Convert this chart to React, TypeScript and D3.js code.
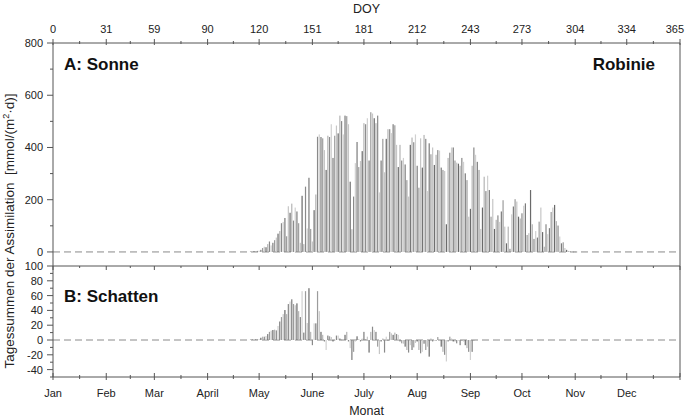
import React from "react";
import * as d3 from "d3";

// ---- data ----
const sunStartDoy = 115;
const sunValues = [
  2, 2, 3, 3, 4, 5, 8, 15, 20, 18,
  30, 40, 25, 35, 45, 55, 70, 80, 110, 115,
  130, 60, 175, 150, 185, 120, 170, 155, 110, 35,
  215, 30, 250, 90, 284, 88, 40, 160, 220, 441,
  450, 440, 435, 390, 314, 445, 440, 489, 360, 445,
  484, 454, 522, 501, 450, 522, 520, 489, 269, 87,
  212, 340, 421, 325, 348, 386, 493, 489, 512, 350,
  535, 530, 512, 493, 522, 228, 350, 433, 305, 433,
  470, 470, 455, 489, 485, 410, 325, 410, 350, 360,
  335, 275, 212, 410, 438, 420, 450, 330, 246, 435,
  323, 448, 433, 233, 416, 374, 400, 333, 372, 390,
  388, 323, 314, 310, 106, 360, 380, 400, 400, 350,
  342, 338, 330, 360, 345, 301, 275, 135, 165, 330,
  400, 372, 345, 314, 88, 170, 288, 233, 292, 237,
  135, 203, 88, 123, 140, 115, 155, 198, 97, 33,
  97, 12, 144, 174, 202, 193, 135, 128, 148, 177,
  186, 65, 72, 237, 106, 50, 80, 55, 116, 170,
  76, 20, 106, 68, 91, 153, 170, 180, 118, 101,
  59, 33, 37, 15, 8, 4, 2, 2, 1, 1, 1,
];
const shadeStartDoy = 115;
const shadeValues = [
  1, 1, 1, 1, 1, 1, 3, 4.5, 4.5, 5.4,
  8, 11, 12.6, 13.5, 14, 13, 19, 25, 31, 35,
  40.5, 35, 48.6, 52, 55, 48.6, 47, 49.5, 39, 31,
  66, 10, 66, 23, 70, 11, -7, 22.5, 22.5, 66,
  39, 11, 7, -2, -13.5, 6, 5, 4, -2, -1,
  6, 6, 2, 0.5, 1, 7, 11, -2, -11, -27,
  -16, -2, 5, 1, -2, 2, 11, 1, 4.5, -17,
  11, 18, 13.5, 11, -9, -19, -2, 2, -17, 4.5,
  -1, 11, 9, 7, 10, 8, 7, -2, -4.5, -5,
  -9, -13.5, -17, -7, -13.5, -10, -4, -2, -13.5, -18,
  -16, -5, -13.5, -9, -22.5, 2, -2, -1, -1, 4,
  1, -9, -16, -20, -29, -2, 4.5, 2, -2, -2,
  -4.5, -1, -7, -1, -2, -7, -11, -16, -27, -16,
  -1,
];
const monthStarts = [0, 31, 59, 90, 120, 151, 181, 212, 243, 273, 304, 334, 365];
const monthLabels = ["Jan", "Feb", "Mar", "April", "May", "June", "July", "Aug", "Sep", "Oct", "Nov", "Dec"];
const sunTicks = [0, 200, 400, 600, 800];
const shadeTicks = [-40, -20, 0, 20, 40, 60, 80, 100];
const barColors = ["#9c9c9c", "#c6c6c6", "#6a6a6a", "#b4b4b4", "#8a8a8a", "#d0d0d0", "#7c7c7c"];

const W = 685;
const H = 420;
const FONT = "'Liberation Sans', Arial, sans-serif";

export default function App() {
  const x = d3.scaleLinear().domain([0, 365]).range([53, 680]);
  const yTop = d3.scaleLinear().domain([-50, 800]).range([265, 43]);
  const yBot = d3.scaleLinear().domain([-50, 100]).range([377, 266]);
  const left = x(0);
  const right = x(365);

  const minorX: number[] = [];
  for (let i = 0; i < monthStarts.length - 1; i++) {
    minorX.push((monthStarts[i] + monthStarts[i + 1]) / 2);
  }

  const bw = 1.2;
  const sunBars = sunValues.map((v, i) => {
    const d = sunStartDoy + i;
    const y0 = yTop(0), y1 = yTop(v);
    return (
      <rect key={"s" + i} x={x(d) - bw / 2} y={Math.min(y0, y1)} width={bw}
        height={Math.max(0.6, Math.abs(y1 - y0))} fill={barColors[i % barColors.length]} />
    );
  });
  const shadeBars = shadeValues.map((v, i) => {
    const d = shadeStartDoy + i;
    const y0 = yBot(0), y1 = yBot(v);
    return (
      <rect key={"b" + i} x={x(d) - bw / 2} y={Math.min(y0, y1)} width={bw}
        height={Math.max(0.6, Math.abs(y1 - y0))} fill={barColors[(i + 3) % barColors.length]} />
    );
  });

  const axisColor = "#555";
  const topY = yTop(800);
  const sepY = yBot(100);
  const botY = yBot(-50);

  return (
    <svg width={W} height={H} style={{ position: "absolute", left: 0, top: 0, background: "#fff" }}
      fontFamily={FONT}>
      {/* zero lines */}
      <line x1={left} x2={right} y1={yTop(0)} y2={yTop(0)} stroke="#8a8a8a" strokeWidth={1} strokeDasharray="7,4" />
      <line x1={left} x2={right} y1={yBot(0)} y2={yBot(0)} stroke="#8a8a8a" strokeWidth={1} strokeDasharray="7,4" />
      {sunBars}
      {shadeBars}

      {/* frame */}
      <line x1={left} x2={right} y1={topY} y2={topY} stroke={axisColor} strokeWidth={1} />
      <line x1={left} x2={right} y1={sepY} y2={sepY} stroke={axisColor} strokeWidth={1} />
      <line x1={left} x2={right} y1={botY} y2={botY} stroke={axisColor} strokeWidth={1} />
      <line x1={left} x2={left} y1={topY} y2={botY} stroke={axisColor} strokeWidth={1} />
      <line x1={right} x2={right} y1={topY} y2={botY} stroke={axisColor} strokeWidth={1} />

      {/* top axis ticks & labels */}
      {monthStarts.map((d, i) => {
        const last = i === monthStarts.length - 1;
        return (
          <g key={"tt" + d}>
            <line x1={x(d)} x2={x(d)} y1={topY - 4} y2={topY + 2} stroke={axisColor} />
            <text x={last ? 684 : x(d)} y={topY - 10} textAnchor={last ? "end" : "middle"} fontSize={11} fill="#222">{d}</text>
          </g>
        );
      })}
      {minorX.map((d) => (
        <line key={"tm" + d} x1={x(d)} x2={x(d)} y1={topY - 2} y2={topY + 1} stroke={axisColor} />
      ))}
      <text x={(left + right) / 2} y={13} textAnchor="middle" fontSize={12.5} fill="#222">DOY</text>

      {/* separator ticks */}
      {monthStarts.map((d) => (
        <line key={"st" + d} x1={x(d)} x2={x(d)} y1={sepY} y2={sepY + 4} stroke={axisColor} />
      ))}
      {minorX.map((d) => (
        <line key={"sm" + d} x1={x(d)} x2={x(d)} y1={sepY} y2={sepY + 2} stroke={axisColor} />
      ))}

      {/* bottom axis */}
      {monthStarts.map((d) => (
        <line key={"bt" + d} x1={x(d)} x2={x(d)} y1={botY - 4} y2={botY + 3} stroke={axisColor} />
      ))}
      {minorX.map((d) => (
        <line key={"bm" + d} x1={x(d)} x2={x(d)} y1={botY - 2} y2={botY + 2} stroke={axisColor} />
      ))}
      {monthLabels.map((m, i) => (
        <text key={"ml" + m} x={x(monthStarts[i])} y={botY + 20} textAnchor="middle" fontSize={11} fill="#222">{m}</text>
      ))}
      <text x={(left + right) / 2} y={415} textAnchor="middle" fontSize={12.5} fill="#222">Monat</text>

      {/* left axis top panel */}
      {sunTicks.map((t) => (
        <g key={"ys" + t}>
          <line x1={left - 6} x2={left} y1={yTop(t)} y2={yTop(t)} stroke={axisColor} />
          <text x={left - 10} y={yTop(t) + 4} textAnchor="end" fontSize={11} fill="#222">{t}</text>
        </g>
      ))}
      {[100, 300, 500, 700].map((t) => (
        <line key={"ysm" + t} x1={left - 3} x2={left} y1={yTop(t)} y2={yTop(t)} stroke={axisColor} />
      ))}

      {/* left axis bottom panel */}
      {shadeTicks.map((t) => (
        <g key={"yb" + t}>
          <line x1={left - 6} x2={left} y1={yBot(t)} y2={yBot(t)} stroke={axisColor} />
          <text x={left - 10} y={yBot(t) + 4} textAnchor="end" fontSize={11} fill="#222">{t}</text>
        </g>
      ))}
      {[-50, -30, -10, 10, 30, 50, 70, 90].map((t) => (
        <line key={"ybm" + t} x1={left - 3} x2={left} y1={yBot(t)} y2={yBot(t)} stroke={axisColor} />
      ))}

      {/* y label */}
      <text transform={`translate(14,${(topY + botY) / 2 + 21}) rotate(-90)`} textAnchor="middle" fontSize={13.5} fill="#222"
        style={{ whiteSpace: "pre" }}>
        {"Tagessummen der Assimilation  [mmol/(m"}<tspan dy={-5} fontSize={9}>2</tspan><tspan dy={5}>·d)]</tspan>
      </text>

      {/* panel labels */}
      <text x={64} y={70} fontSize={17} fontWeight="bold" fill="#111">A: Sonne</text>
      <text x={655} y={70} textAnchor="end" fontSize={17} fontWeight="bold" fill="#111">Robinie</text>
      <text x={64} y={302} fontSize={17} fontWeight="bold" fill="#111">B: Schatten</text>
    </svg>
  );
}
